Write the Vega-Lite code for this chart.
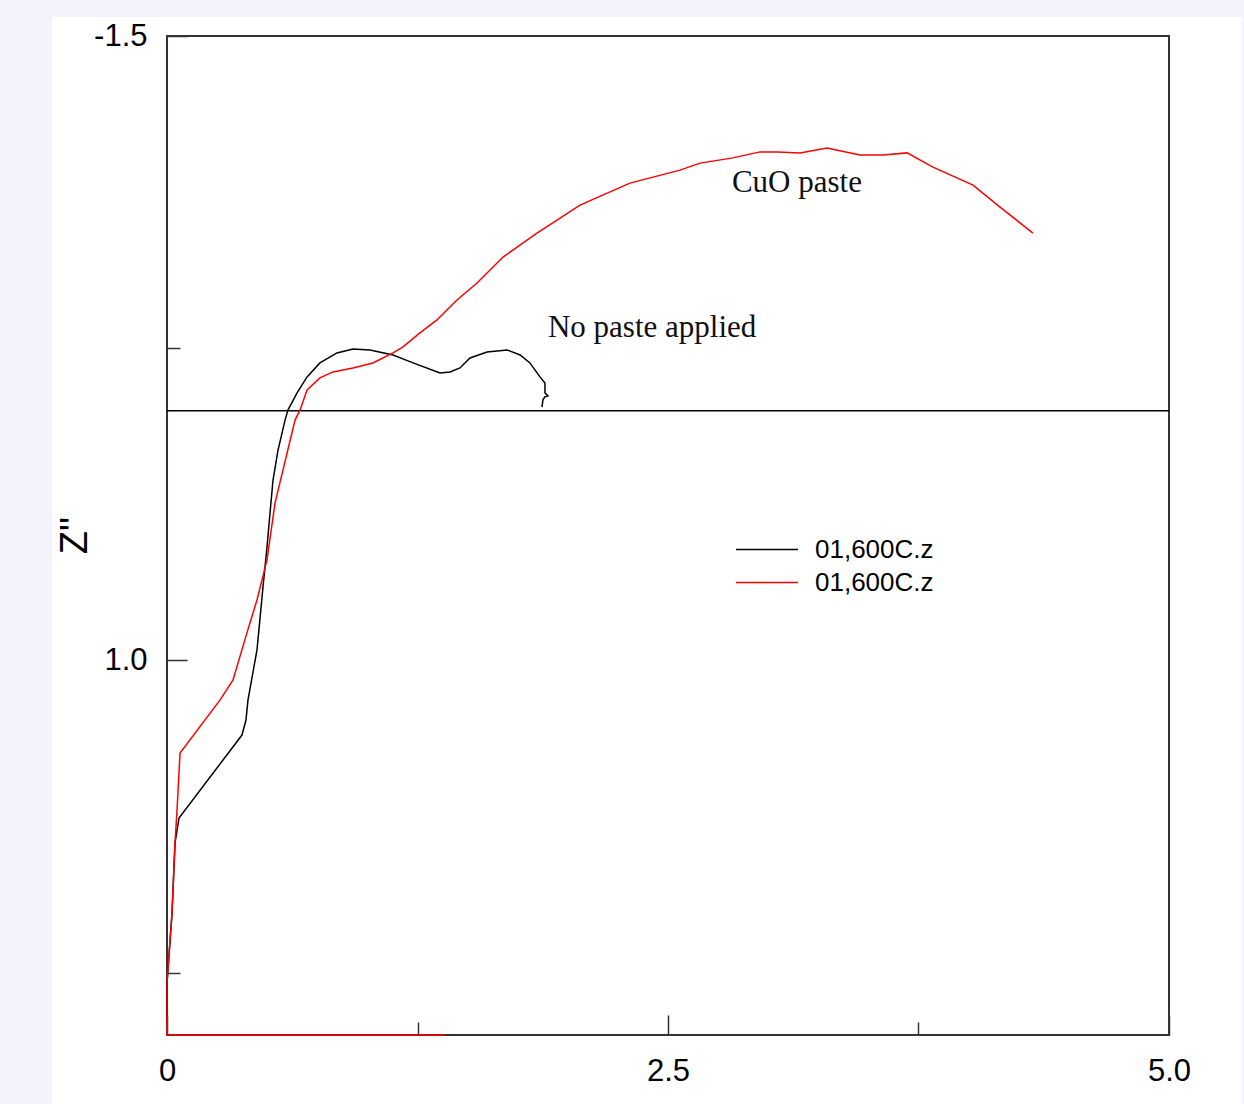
{
  "$schema": "https://vega.github.io/schema/vega-lite/v6.json",
  "width": 1190,
  "height": 1087,
  "autosize": {"type": "none"},
  "padding": {"left": 52, "top": 17, "right": 2, "bottom": 0},
  "background": "#f4f3fd",
  "config": {"view": {"stroke": null, "fill": "white"}},
  "datasets": {
    "curves": [
      {"series": "s1", "i": 1, "x": 0, "y": 2.428},
      {"series": "s1", "i": 2, "x": 0, "y": 2.292},
      {"series": "s1", "i": 3, "x": 0.025, "y": 2.012},
      {"series": "s1", "i": 4, "x": 0.04, "y": 1.731},
      {"series": "s1", "i": 5, "x": 0.06, "y": 1.631},
      {"series": "s1", "i": 6, "x": 0.374, "y": 1.299},
      {"series": "s1", "i": 7, "x": 0.394, "y": 1.239},
      {"series": "s1", "i": 8, "x": 0.404, "y": 1.159},
      {"series": "s1", "i": 9, "x": 0.449, "y": 0.958},
      {"series": "s1", "i": 10, "x": 0.479, "y": 0.706},
      {"series": "s1", "i": 11, "x": 0.499, "y": 0.546},
      {"series": "s1", "i": 12, "x": 0.514, "y": 0.41},
      {"series": "s1", "i": 13, "x": 0.529, "y": 0.278},
      {"series": "s1", "i": 14, "x": 0.554, "y": 0.158},
      {"series": "s1", "i": 15, "x": 0.589, "y": 0.038},
      {"series": "s1", "i": 16, "x": 0.604, "y": -0.003},
      {"series": "s1", "i": 17, "x": 0.649, "y": -0.071},
      {"series": "s1", "i": 18, "x": 0.699, "y": -0.135},
      {"series": "s1", "i": 19, "x": 0.763, "y": -0.191},
      {"series": "s1", "i": 20, "x": 0.848, "y": -0.231},
      {"series": "s1", "i": 21, "x": 0.928, "y": -0.247},
      {"series": "s1", "i": 22, "x": 1.013, "y": -0.243},
      {"series": "s1", "i": 23, "x": 1.128, "y": -0.223},
      {"series": "s1", "i": 24, "x": 1.228, "y": -0.191},
      {"series": "s1", "i": 25, "x": 1.362, "y": -0.151},
      {"series": "s1", "i": 26, "x": 1.412, "y": -0.155},
      {"series": "s1", "i": 27, "x": 1.462, "y": -0.171},
      {"series": "s1", "i": 28, "x": 1.512, "y": -0.211},
      {"series": "s1", "i": 29, "x": 1.597, "y": -0.235},
      {"series": "s1", "i": 30, "x": 1.697, "y": -0.243},
      {"series": "s1", "i": 31, "x": 1.762, "y": -0.223},
      {"series": "s1", "i": 32, "x": 1.811, "y": -0.191},
      {"series": "s1", "i": 33, "x": 1.861, "y": -0.135},
      {"series": "s1", "i": 34, "x": 1.886, "y": -0.111},
      {"series": "s1", "i": 35, "x": 1.886, "y": -0.071},
      {"series": "s1", "i": 36, "x": 1.901, "y": -0.059},
      {"series": "s1", "i": 37, "x": 1.886, "y": -0.055},
      {"series": "s1", "i": 38, "x": 1.876, "y": -0.043},
      {"series": "s1", "i": 39, "x": 1.871, "y": -0.014},
      {"series": "s2", "i": 1, "x": 1.387, "y": 2.5},
      {"series": "s2", "i": 2, "x": 0, "y": 2.5},
      {"series": "s2", "i": 3, "x": 0, "y": 2.292},
      {"series": "s2", "i": 4, "x": 0.025, "y": 2.012},
      {"series": "s2", "i": 5, "x": 0.04, "y": 1.731},
      {"series": "s2", "i": 6, "x": 0.05, "y": 1.599},
      {"series": "s2", "i": 7, "x": 0.065, "y": 1.371},
      {"series": "s2", "i": 8, "x": 0.264, "y": 1.159},
      {"series": "s2", "i": 9, "x": 0.329, "y": 1.079},
      {"series": "s2", "i": 10, "x": 0.399, "y": 0.89},
      {"series": "s2", "i": 11, "x": 0.449, "y": 0.758},
      {"series": "s2", "i": 12, "x": 0.499, "y": 0.598},
      {"series": "s2", "i": 13, "x": 0.539, "y": 0.37},
      {"series": "s2", "i": 14, "x": 0.599, "y": 0.17},
      {"series": "s2", "i": 15, "x": 0.639, "y": 0.038},
      {"series": "s2", "i": 16, "x": 0.664, "y": -0.003},
      {"series": "s2", "i": 17, "x": 0.699, "y": -0.083},
      {"series": "s2", "i": 18, "x": 0.763, "y": -0.131},
      {"series": "s2", "i": 19, "x": 0.828, "y": -0.155},
      {"series": "s2", "i": 20, "x": 0.928, "y": -0.171},
      {"series": "s2", "i": 21, "x": 1.028, "y": -0.191},
      {"series": "s2", "i": 22, "x": 1.128, "y": -0.231},
      {"series": "s2", "i": 23, "x": 1.178, "y": -0.255},
      {"series": "s2", "i": 24, "x": 1.262, "y": -0.311},
      {"series": "s2", "i": 25, "x": 1.347, "y": -0.363},
      {"series": "s2", "i": 26, "x": 1.447, "y": -0.443},
      {"series": "s2", "i": 27, "x": 1.547, "y": -0.511},
      {"series": "s2", "i": 28, "x": 1.677, "y": -0.615},
      {"series": "s2", "i": 29, "x": 1.747, "y": -0.655},
      {"series": "s2", "i": 30, "x": 1.846, "y": -0.711},
      {"series": "s2", "i": 31, "x": 1.946, "y": -0.763},
      {"series": "s2", "i": 32, "x": 2.061, "y": -0.823},
      {"series": "s2", "i": 33, "x": 2.31, "y": -0.911},
      {"series": "s2", "i": 34, "x": 2.56, "y": -0.963},
      {"series": "s2", "i": 35, "x": 2.66, "y": -0.991},
      {"series": "s2", "i": 36, "x": 2.824, "y": -1.012},
      {"series": "s2", "i": 37, "x": 2.959, "y": -1.036},
      {"series": "s2", "i": 38, "x": 3.044, "y": -1.036},
      {"series": "s2", "i": 39, "x": 3.159, "y": -1.032},
      {"series": "s2", "i": 40, "x": 3.293, "y": -1.052},
      {"series": "s2", "i": 41, "x": 3.458, "y": -1.024},
      {"series": "s2", "i": 42, "x": 3.573, "y": -1.024},
      {"series": "s2", "i": 43, "x": 3.693, "y": -1.032},
      {"series": "s2", "i": 44, "x": 3.822, "y": -0.975},
      {"series": "s2", "i": 45, "x": 4.022, "y": -0.903},
      {"series": "s2", "i": 46, "x": 4.157, "y": -0.815},
      {"series": "s2", "i": 47, "x": 4.321, "y": -0.711}
    ],
    "notes": [
      {"x": 2.819, "y": -0.875, "label": "CuO paste"},
      {"x": 1.901, "y": -0.295, "label": "No paste applied"}
    ]
  },
  "layer": [
    {
      "data": {"values": [{}]},
      "mark": {"type": "rect", "filled": false, "stroke": "#333333", "strokeWidth": 2},
      "encoding": {
        "x": {"datum": 0, "type": "quantitative"},
        "x2": {"datum": 5},
        "y": {"datum": -1.5, "type": "quantitative"},
        "y2": {"datum": 2.5}
      }
    },
    {
      "data": {"values": [{}]},
      "mark": {"type": "rule", "stroke": "#000000", "strokeWidth": 1.5},
      "encoding": {
        "x": {"datum": 0, "type": "quantitative"},
        "x2": {"datum": 5},
        "y": {"datum": 0, "type": "quantitative"}
      }
    },
    {
      "data": {"name": "curves"},
      "mark": {"type": "line", "strokeWidth": 1.5, "interpolate": "linear"},
      "encoding": {
        "x": {
          "field": "x",
          "type": "quantitative",
          "scale": {"domain": [-0.5739, 5.3643], "nice": false, "zero": false},
          "axis": {
            "orient": "bottom",
            "offset": -69,
            "title": null,
            "values": [0, 1.25, 2.5, 3.75, 5],
            "labelExpr": "datum.value == 0 ? '0' : (datum.value == 2.5 ? '2.5' : (datum.value == 5 ? '5.0' : ''))",
            "domain": false,
            "grid": false,
            "tickColor": "#333333",
            "tickWidth": 1.5,
            "tickSize": {"condition": {"test": "datum.value == 1.25 || datum.value == 3.75", "value": -13}, "value": -20},
            "labelPadding": 41,
            "labelFont": "Liberation Sans",
            "labelFontSize": 31,
            "labelColor": "#000000",
            "labelFlush": false,
            "labelOverlap": false,
            "labelBound": false
          }
        },
        "y": {
          "field": "y",
          "type": "quantitative",
          "scale": {"domain": [-1.5761, 2.7763], "reverse": true, "nice": false, "zero": false},
          "axis": {
            "orient": "left",
            "offset": -115,
            "title": "Z''",
            "titleFont": "Liberation Sans",
            "titleFontSize": 38,
            "titleFontWeight": "normal",
            "titleColor": "#000000",
            "titleAngle": 270,
            "titleAlign": "center",
            "titleBaseline": "middle",
            "titleX": -92,
            "titleY": 518,
            "values": [-1.5, -0.25, 1, 2.25],
            "labelExpr": "datum.value == -1.5 ? '-1.5' : (datum.value == 1 ? '1.0' : '')",
            "domain": false,
            "grid": false,
            "tickColor": "#333333",
            "tickWidth": 1.5,
            "tickSize": {"condition": {"test": "datum.value == -0.25 || datum.value == 2.25", "value": -13}, "value": -20},
            "labelPadding": 40,
            "labelFont": "Liberation Sans",
            "labelFontSize": 31,
            "labelColor": "#000000",
            "labelFlush": false,
            "labelOverlap": false,
            "labelBound": false
          }
        },
        "order": {"field": "i", "type": "quantitative"},
        "color": {
          "field": "series",
          "type": "nominal",
          "scale": {"domain": ["s1", "s2"], "range": ["#000000", "#ff0000"]},
          "legend": {
            "orient": "none",
            "legendX": 683,
            "legendY": 516,
            "title": null,
            "padding": 0,
            "symbolType": "stroke",
            "symbolSize": 3844,
            "symbolStrokeWidth": 1.5,
            "clipHeight": 33,
            "labelExpr": "'01,600C.z'",
            "labelFont": "Liberation Sans",
            "labelFontSize": 26,
            "labelColor": "#000000",
            "labelOffset": 16,
            "rowPadding": 0
          }
        }
      }
    },
    {
      "data": {"name": "notes"},
      "mark": {"type": "text", "font": "Liberation Serif", "fontSize": 31, "align": "left", "baseline": "alphabetic", "color": "#111111"},
      "encoding": {
        "x": {"field": "x", "type": "quantitative"},
        "y": {"field": "y", "type": "quantitative"},
        "text": {"field": "label", "type": "nominal"}
      }
    }
  ]
}
